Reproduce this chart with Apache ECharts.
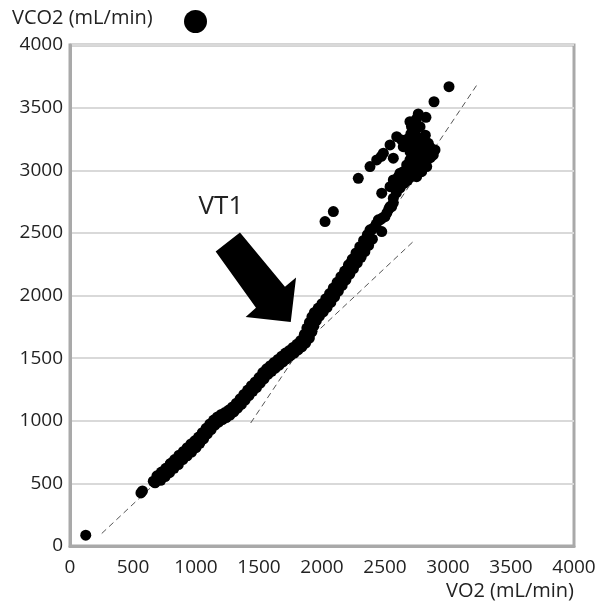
<!DOCTYPE html>
<html>
<head>
<meta charset="utf-8">
<script src="https://cdn.jsdelivr.net/npm/echarts@6/dist/echarts.min.js"></script>
<style>html,body{margin:0;padding:0;background:#fff;}#c{width:601px;height:605px;}</style>
</head>
<body>
<div id="c"></div>
<script>
// Axis ticks
const xTicks = [0, 500, 1000, 1500, 2000, 2500, 3000, 3500, 4000];
const yTicks = [0, 500, 1000, 1500, 2000, 2500, 3000, 3500, 4000];

// VO2 / VCO2 measurements (mL/min)
const lowerBand = [
  [125,86],[563,424],[575,440],[661,517],[675,505],[700,540],[720,555],[740,565],[745,590],[770,610],
  [780,590],[794,636],[800,660],[820,650],[830,670],[850,690],[860,675],[873,705],[880,720],[900,730],
  [910,745],[925,740],[940,770],[952,780],[965,770],[980,800],[990,815],[1005,820],[1020,845],[1032,860],
  [1045,875],[1060,895],[1075,910],[1090,930],[1105,950],[1120,965],[1135,980],[1150,995],[1165,1005],
  [1180,1015],[1195,1025],[1210,1035],[1230,1045],[1250,1055],[1270,1065],[1290,1085],[1310,1105],
  [1330,1125],[1350,1150],[1370,1175],[1390,1200],[1410,1220],[1430,1240],[1450,1265],[1470,1285],
  [1490,1305],[1510,1330],[1530,1360],[1550,1385],[1575,1405],[1600,1425],[1625,1445],[1650,1470],
  [1670,1490],[1690,1505],[1715,1525],[1740,1545],[1765,1560],[1790,1580],[1810,1600],[1830,1620],
  [1850,1645],[1870,1665],[1885,1690],[1895,1720],[1905,1750],[1915,1775],[1930,1800],[1945,1830],
  [1960,1860],[1975,1880],[1995,1900],[2015,1925],[2035,1950],[2055,1980],[2075,2010],[2095,2040],
  [2115,2070],[2135,2100],[2155,2135],[2175,2170],[2195,2205],[2215,2240],[2235,2270],[2250,2295],
  [2270,2320],[2290,2345],[2305,2365],[2320,2390],[2340,2420],[2355,2450],[2370,2470],[2381,2524],
  [2394,2524],[2410,2540],[2430,2570],[2447,2604],[2474,2510],[2460,2604],[2480,2620],[2500,2630],
  [2515,2660],[2530,2690],[2540,2710],[2553,2710],[2566,2740],[2566,2777]
];
const bandUpperEdge = [
  [690,560],[725,590],[760,620],[795,655],[830,690],[865,725],[900,755],[930,785],[960,815],[990,840],
  [1020,870],[1050,905],[1080,940],[1110,975],[1140,1005],[1170,1030],[1200,1050],[1230,1065],[1260,1085],
  [1290,1110],[1320,1140],[1350,1175],[1380,1210],[1410,1245],[1440,1280],[1470,1310],[1500,1345],
  [1530,1385],[1560,1415],[1590,1440],[1620,1465],[1650,1490],[1680,1515],[1710,1540],[1740,1560],
  [1770,1585],[1800,1610],[1830,1640],[1860,1690],[1880,1740],[1900,1785],[1920,1830],[1940,1865],
  [1970,1900],[2000,1935],[2030,1975],[2060,2015],[2090,2060],[2120,2105],[2150,2150],[2180,2195],
  [2210,2245],[2240,2290],[2270,2340],[2300,2390],[2330,2440],[2360,2485]
];
const bandLowerEdge = [
  [720,525],[755,555],[790,585],[825,620],[860,650],[895,690],[930,720],[965,750],[1000,785],[1030,820],
  [1060,855],[1090,895],[1120,930],[1150,965],[1180,990],[1210,1010],[1240,1025],[1270,1045],[1300,1070],
  [1330,1100],[1360,1130],[1390,1165],[1420,1200],[1450,1235],[1480,1265],[1510,1300],[1540,1335],
  [1570,1370],[1600,1395],[1630,1420],[1660,1445],[1690,1470],[1720,1495],[1750,1520],[1780,1540],
  [1810,1565],[1840,1590],[1870,1620],[1900,1660],[1920,1710],[1935,1755],[1955,1800],[1980,1835],
  [2010,1870],[2040,1905],[2070,1945],[2100,1990],[2130,2035],[2160,2080],[2190,2125],[2220,2170],
  [2250,2215],[2280,2260],[2310,2305],[2340,2350],[2370,2400],[2400,2450]
];
const upperCluster = [
  [2024,2590],[2090,2670],
  [2288,2936],[2381,3029],[2434,3082],[2470,3110],[2487,3136],[2540,3202],[2593,3268],[2632,3242],[2566,3096],
  [3008,3667],[2889,3547],[2764,3449],[2825,3423],[2698,3388],[2725,3321],[2778,3348],[2659,3215],
  [2725,3242],[2844,3215],[2897,3162],[2883,3122],[2645,3188],[2698,3149],[2751,3108],[2712,3069],
  [2791,3056],[2844,3122],[2831,3029],[2791,2989],[2672,3042],[2645,2989],[2606,2949],[2566,2923],
  [2540,2869],[2474,2817],[2751,2949],[2619,2976],[2698,3082],[2725,3136],[2751,3188],
  [2590,2820],[2610,2870],[2630,2900],[2660,2940],[2690,2990],[2720,3010],[2740,3060],[2770,3020],
  [2800,3100],[2860,3180],[2820,3280],
  [2740,3380],[2750,3410],[2710,3350],[2740,3290],[2760,3260],[2790,3230],[2820,3200],[2855,3160],
  [2870,3140],[2860,3100],[2830,3075],[2800,3045],[2770,2995],[2740,2975],[2710,2950],[2680,2920],
  [2650,2895],[2620,2860],[2700,3210],[2680,3250],[2705,3290],[2765,3150],[2780,3180],[2810,3130]
];

// Dashed fit lines
const fitLow = [[252,100],[2738,2444]];
const fitHigh = [[1434,982],[3241,3699]];

// VT1 arrow outline (data coordinates)
const arrowX = [1156, 1476, 1394, 1752, 1794, 1706, 1349];
const arrowY = [2351, 1902, 1828, 1788, 2144, 2069, 2502];
const vt1Label = {text: 'VT1', x: 1198, y: 2707};

const FONT = '"Open Sans", "DejaVu Sans", sans-serif';
const plain = function (v) { return String(v); };
const chart = echarts.init(document.getElementById('c'));
chart.setOption({
  animation: false,
  backgroundColor: '#fff',
  title: {
    text: 'VCO2 (mL/min)', left: 12, top: 8, padding: 0,
    textStyle: {fontSize: 20, fontWeight: 'normal', color: '#222', fontFamily: FONT}
  },
  legend: {
    data: [{name: 'VCO2', icon: 'circle'}],
    left: 184, top: 10, padding: 0,
    itemWidth: 23, itemHeight: 23,
    formatter: function () { return ''; }
  },
  grid: {left: 70, right: 27, top: 45, bottom: 59, show: true, borderColor: '#a9a9a9', borderWidth: 3},
  xAxis: {
    type: 'value', min: xTicks[0], max: xTicks[xTicks.length - 1], interval: 500,
    name: 'VO2 (mL/min)', nameLocation: 'end', nameGap: 0,
    nameTextStyle: {fontSize: 20, color: '#222', fontFamily: FONT, align: 'right', verticalAlign: 'top', padding: [35, 0, 0, 0]},
    axisLine: {show: true, lineStyle: {color: '#a9a9a9', width: 3}},
    axisTick: {show: false},
    splitLine: {show: false},
    axisLabel: {fontSize: 19, color: '#222', fontFamily: FONT, margin: 12, formatter: plain}
  },
  yAxis: {
    type: 'value', min: yTicks[0], max: yTicks[yTicks.length - 1], interval: 500,
    axisLine: {show: true, lineStyle: {color: '#a9a9a9', width: 3}},
    axisTick: {show: false},
    splitLine: {show: true, lineStyle: {color: '#d9d9d9', width: 2}},
    axisLabel: {fontSize: 19, color: '#222', fontFamily: FONT, margin: 7, padding: [0, 0, 8, 0], formatter: plain}
  },
  series: [
    {
      type: 'line', data: fitLow, symbol: 'none', silent: true, z: 1,
      lineStyle: {color: '#555', width: 1, type: [6, 4]}
    },
    {
      type: 'line', data: fitHigh, symbol: 'none', silent: true, z: 1,
      lineStyle: {color: '#555', width: 1, type: [6, 4]}
    },
    {
      name: 'VCO2', type: 'scatter', symbol: 'circle', symbolSize: 11, z: 3,
      itemStyle: {color: '#000', opacity: 1},
      data: lowerBand.concat(bandUpperEdge, bandLowerEdge, upperCluster)
    },
    {
      type: 'custom', silent: true, z: 4,
      data: [[arrowX[0], arrowY[0]]],
      renderItem: function (params, api) {
        const pts = arrowX.map(function (x, i) { return api.coord([x, arrowY[i]]); });
        const tp = api.coord([vt1Label.x, vt1Label.y]);
        return {
          type: 'group',
          children: [
            {type: 'polygon', shape: {points: pts}, style: {fill: '#000'}},
            {type: 'text', x: tp[0], y: tp[1], style: {text: vt1Label.text, fill: '#222', font: '26px ' + FONT, align: 'center', verticalAlign: 'middle'}}
          ]
        };
      }
    }
  ]
});
</script>
</body>
</html>
